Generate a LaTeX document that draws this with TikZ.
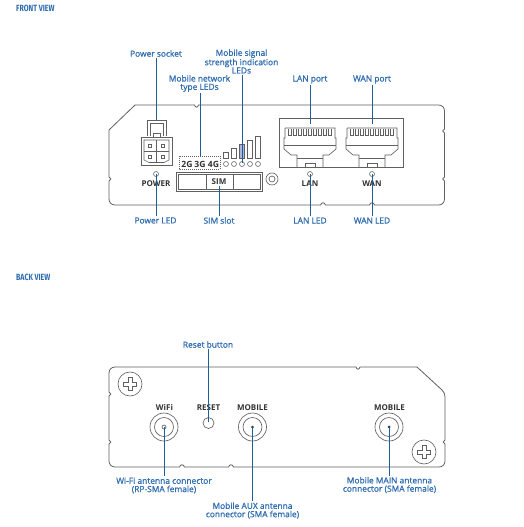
\documentclass[tikz,border=0pt]{standalone}
\usepackage{fontspec}
\setmainfont{Open Sans}
\newfontfamily\headfont{Fira Sans}
\newfontfamily\lblfont[FakeBold=0.9]{Open Sans}
\definecolor{lblblue}{HTML}{2F6DB0}
\definecolor{leadblue}{HTML}{1F5F99}
\definecolor{ink}{HTML}{606060}
\definecolor{prt}{HTML}{333333}
\definecolor{barfill}{HTML}{A9B7DC}
\tikzset{
 lbl/.style={text=lblblue,font=\lblfont\fontsize{8.4}{8.3}\selectfont,align=center,inner sep=1pt},
 prtl/.style={text=prt,font=\bfseries\fontsize{8}{8}\selectfont,inner sep=0pt},
 head/.style={text=lblblue,font=\headfont\bfseries\fontsize{9}{9}\selectfont,inner sep=0pt,anchor=west,xscale=.78},
 lead/.style={draw=leadblue,line width=.8pt},
 case/.style={draw=ink,line width=.8pt},
 part/.style={draw=ink,line width=.65pt},
 led/.style={draw=ink,line width=.55pt,fill=white},
}
\newcommand{\rjport}[1]{%
 \begin{scope}[xshift=#1pt]
 \draw[part] (285,128)--(335,128)--(335,138)--(336,138)--(336,149)--(329,155)--(323,155)--(323,167)
   (285,128)--(285,138)--(284,138)--(284,149)--(291,155)--(297,155)--(297,167);
 \draw[part] (284,145)--(336,145);
 \draw[part] (297,158)--(323,158);
 \draw[part] (305,167)--(305,163)--(315,163)--(315,167);
 \foreach \i in {0,...,8}{\draw[part,line width=.5pt] ({288.5+\i*5},129)--({288.5+\i*5},135)--({291.5+\i*5},135)--({291.5+\i*5},129);}
 \end{scope}}
\newcommand{\screw}[2]{%
 \draw[part] (#1,#2) circle (12);
 \draw[part] ({#1-2},{#2-6.5})--({#1+2},{#2-6.5})--({#1+2},{#2-2})--({#1+6.5},{#2-2})--({#1+6.5},{#2+2})--({#1+2},{#2+2})--({#1+2},{#2+6.5})--({#1-2},{#2+6.5})--({#1-2},{#2+2})--({#1-6.5},{#2+2})--({#1-6.5},{#2-2})--({#1-2},{#2-2})--cycle;}
\begin{document}
\begin{tikzpicture}[x=1pt,y=-1pt]
\useasboundingbox (0,0) rectangle (524,527);
\fill[white] (0,0) rectangle (524,527);
\node[head] (hfront) at (16,8.5) {FRONT VIEW};
\node[head] (hback) at (16,277) {BACK VIEW};
% front case
\draw[case] (135,105)--(194.5,105) .. controls (195.5,108) and (197.5,108) .. (198.5,105)--(438.5,105)
 .. controls (442,105) and (444.5,107.5) .. (444.5,111)--(444.5,129) .. controls (442,130) and (442,132) .. (444.5,133)
 --(444.5,177) .. controls (442,178) and (442,180) .. (444.5,181)--(444.5,199)
 .. controls (444.5,202.5) and (442,205) .. (438.5,205)--(374.5,205) .. controls (373.5,202) and (370.5,202) .. (369.5,205)
 --(325.5,205) .. controls (324.5,202) and (321.5,202) .. (320.5,205)--(115,205)
 .. controls (111.5,205) and (109,202.5) .. (109,199)--(109,181) .. controls (111.5,180) and (111.5,178) .. (109,177)
 --(109,130)--cycle;
% power socket
\draw[part,line width=1pt] (147,136)--(147,120)--(166,120)--(166,136);
\draw[part] (150,136)--(150,123)--(163,123)--(163,136);
\draw[part,line width=1pt] (141,137)--(172,137)--(172,165)--(141,165)--cycle;
\draw[part] (153,137)--(153,133.5)--(160,133.5)--(160,137);
\draw[part] (144,140)--(169,140)--(169,160)--(164,162.5)--(149,162.5)--(144,160)--cycle;
\draw[part] (156.5,140)--(156.5,162.5) (144,151)--(169,151);
\foreach \p in {(150,145.5),(162.5,145.5),(150,157),(162.5,157)}{\draw[part,line width=.5pt] \p ++(-1.5,-1.5) rectangle ++(3,3);}
\draw[led] (156,174) circle (2.5);
\node[prtl] (tpower) at (156,184) {POWER};
% sim slot
\draw[part] (176,172) rectangle (262,191);
\draw[part] (178,174) rectangle (260,189);
\draw[part] (206,174)--(206,189) (233,174)--(233,189);
\node[prtl] (tsim) at (219,182) {SIM};
\draw[part] (272,179) circle (6);
\draw[part] (272,179) circle (3);
% type LEDs
\draw[ink,line width=.5pt,dash pattern=on 1pt off 1pt] (179,156) rectangle (220,169);
\node[prtl,font=\bfseries\fontsize{8.6}{8}\selectfont] (t2g) at (187,164.5) {2G};
\node[prtl,font=\bfseries\fontsize{8.6}{8}\selectfont] (t3g) at (200,164.5) {3G};
\node[prtl,font=\bfseries\fontsize{8.6}{8}\selectfont] (t4g) at (213.5,164.5) {4G};
% signal LEDs and bars
\foreach \x/\t in {226/152,234/148,242/144,250/140,258/136}{
 \draw[part] ({\x-2.5},\t) rectangle ({\x+2.5},158);
 \draw[led] (\x,164) circle (2.5);}
\fill[barfill] (239.5,144) rectangle (244.5,158);
\draw[part] (239.5,144) rectangle (244.5,158);
% rj45
\draw[part] (279,118) rectangle (403,167);
\rjport{0}
\rjport{62}
\draw[led] (310,174) circle (2.5);
\draw[led] (372,174) circle (2.5);
\node[prtl] (tlan) at (310,184) {LAN};
\node[prtl] (twan) at (372,184) {WAN};
% back case
\draw[case] (115,367)--(356,367) .. controls (357,370) and (359,370) .. (360,367)--(417,367)
 --(442,390) .. controls (444,392) and (445,394) .. (445,397)--(445,440) .. controls (442.5,441) and (442.5,443) .. (445,444)
 --(445,461) .. controls (445,464.5) and (442.5,467) .. (439,467)--(233.5,467)
 .. controls (232.5,464) and (229.5,464) .. (228.5,467)--(184.5,467) .. controls (183.5,464) and (180.5,464) .. (179.5,467)
 --(115,467) .. controls (111.5,467) and (109,464.5) .. (109,461)--(109,444)
 .. controls (111.5,443) and (111.5,441) .. (109,440)--(109,396) .. controls (111.5,395) and (111.5,393) .. (109,392)
 --(109,373) .. controls (109,369.5) and (111.5,367) .. (115,367)--cycle;
\screw{130}{384}
\screw{424}{452}
\foreach \x in {164,252.5,389}{
 \draw[part] (\x,427) circle (14);
 \draw[part] (\x,427) circle (9.5);}
\draw[part] (164,427) circle (2);
\fill[prt] (252.5,427) circle (1.5);
\fill[prt] (389,427) circle (1.5);
\draw[part] (208.5,423) circle (5.5);
\node[prtl] (twifi) at (164.5,407.5) {WiFi};
\node[prtl] (treset) at (208.5,407.5) {RESET};
\node[prtl] (tmob1) at (252.5,407.5) {MOBILE};
\node[prtl] (tmob2) at (389.5,407.5) {MOBILE};
% labels
\node[lbl] (lps) at (156,53.5) {Power socket};
\node[lbl] (lsig) at (241.5,61.5) {Mobile signal\\strength indication\\LEDs};
\node[lbl] (lnet) at (199.5,83.5) {Mobile network\\type LEDs};
\node[lbl] (llanp) at (310,79.5) {LAN port};
\node[lbl] (lwanp) at (372,79.5) {WAN port};
\node[lbl] (lpled) at (155.5,220.5) {Power LED};
\node[lbl] (lsim) at (219,220.5) {SIM slot};
\node[lbl] (llanl) at (310,220.5) {LAN LED};
\node[lbl] (lwanl) at (372,220.5) {WAN LED};
\node[lbl] (lrst) at (208,344.5) {Reset button};
\node[lbl] (lwifi) at (164,485.5) {Wi-Fi antenna connector\\(RP-SMA female)};
\node[lbl] (laux) at (252.5,510.5) {Mobile AUX antenna\\connector (SMA female)};
\node[lbl] (lmain) at (389.5,485) {Mobile MAIN antenna\\connector (SMA female)};
% leader ends
\coordinate (epsock) at (156,120);
\coordinate (enet) at (200,156);
\coordinate (esig) at (242,163);
\coordinate (eplan) at (310,124);
\coordinate (epwan) at (372,124);
\coordinate (elpow) at (156,174);
\coordinate (esim) at (219,185.5);
\coordinate (ellan) at (310,174);
\coordinate (elwan) at (372,174);
\coordinate (erst) at (208.5,422);
\coordinate (ewifi) at (164,427);
\coordinate (eaux) at (252.5,427);
\coordinate (emain) at (389,427);
\draw[lead] (lps.south -| epsock) -- (epsock);
\draw[lead] (lnet.south -| enet) -- (enet);
\draw[lead] (lsig.south -| esig) -- (esig);
\draw[lead] (llanp.south) -- (eplan);
\draw[lead] (lwanp.south) -- (epwan);
\draw[lead] (lpled.north -| elpow) -- (elpow);
\draw[lead] (lsim.north) -- (esim);
\draw[lead] (llanl.north) -- (ellan);
\draw[lead] (lwanl.north) -- (elwan);
\draw[lead] (lrst.south -| erst) -- (erst);
\draw[lead] (lwifi.north) -- (ewifi);
\draw[lead] (laux.north) -- (eaux);
\draw[lead] (lmain.north -| emain) -- (emain);
\end{tikzpicture}
\end{document}
